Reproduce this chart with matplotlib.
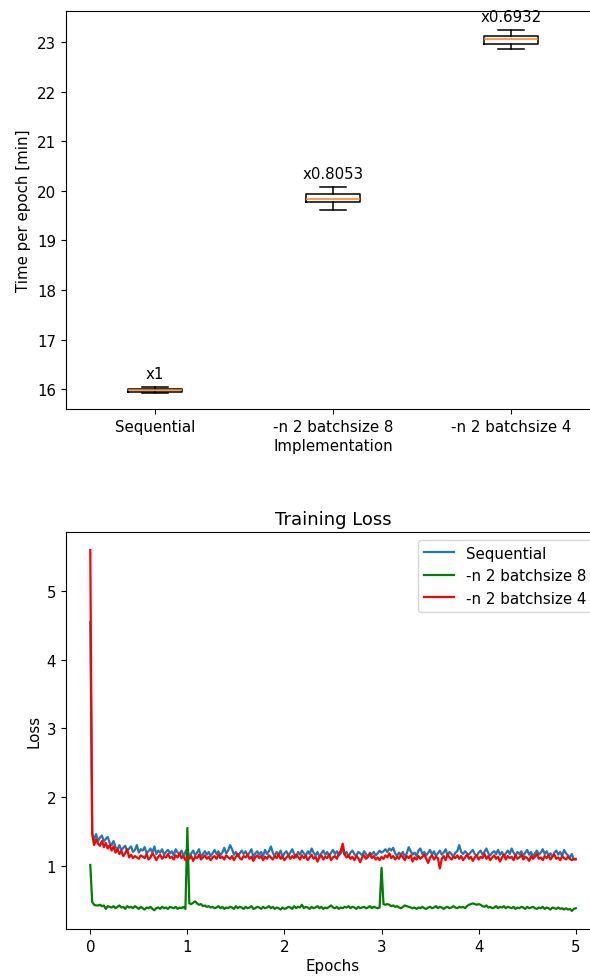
import numpy as np
import matplotlib
matplotlib.use("Agg")
import matplotlib.pyplot as plt

plt.rcParams["font.size"] = 10.8

# ---------------- data ----------------
implementations = ["Sequential", "-n 2 batchsize 8", "-n 2 batchsize 4"]
speedup_labels = ["x1", "x0.8053", "x0.6932"]
box_q1 = [15.95, 19.77, 22.96]
box_med = [15.98, 19.83, 23.07]
box_q3 = [16.00, 19.93, 23.12]
whisker_lo = [15.93, 19.62, 22.87]
whisker_hi = [16.05, 20.08, 23.25]

steps_per_epoch = 50
loss_sequential = [
    4.55, 1.48, 1.38, 1.46, 1.36, 1.41, 1.44, 1.35, 1.39, 1.42, 1.33,
    1.30, 1.36, 1.27, 1.24, 1.30, 1.22, 1.26, 1.29, 1.21, 1.25,
    1.28, 1.20, 1.23, 1.30, 1.19, 1.24, 1.22, 1.27, 1.18, 1.21,
    1.25, 1.19, 1.28, 1.17, 1.22, 1.19, 1.24, 1.16, 1.20, 1.23,
    1.18, 1.21, 1.15, 1.24, 1.19, 1.17, 1.22, 1.14, 1.20, 1.25,
    1.12, 1.18, 1.22, 1.15, 1.19, 1.24, 1.13, 1.17, 1.21, 1.16,
    1.20, 1.14, 1.18, 1.23, 1.17, 1.21, 1.15, 1.19, 1.26, 1.18,
    1.22, 1.30, 1.24, 1.16, 1.20, 1.14, 1.18, 1.22, 1.17, 1.21,
    1.15, 1.19, 1.24, 1.12, 1.18, 1.21, 1.16, 1.20, 1.14, 1.23,
    1.17, 1.21, 1.28, 1.19, 1.14, 1.20, 1.16, 1.22, 1.13, 1.18,
    1.21, 1.15, 1.19, 1.24, 1.17, 1.12, 1.20, 1.16, 1.22, 1.18,
    1.14, 1.21, 1.17, 1.25, 1.19, 1.15, 1.20, 1.13, 1.18, 1.22,
    1.16, 1.20, 1.14, 1.19, 1.23, 1.17, 1.21, 1.15, 1.18, 1.24,
    1.16, 1.20, 1.13, 1.19, 1.22, 1.17, 1.14, 1.20, 1.18, 1.15,
    1.21, 1.17, 1.13, 1.19, 1.16, 1.20, 1.15, 1.18, 1.22, 1.19,
    1.21, 1.24, 1.20, 1.25, 1.22, 1.26, 1.18, 1.14, 1.19, 1.16,
    1.20, 1.13, 1.18, 1.27, 1.21, 1.16, 1.19, 1.14, 1.22, 1.25,
    1.17, 1.20, 1.15, 1.19, 1.23, 1.16, 1.21, 1.14, 1.18, 1.22,
    1.16, 1.19, 1.24, 1.15, 1.20, 1.17, 1.13, 1.19, 1.21, 1.30,
    1.20, 1.17, 1.21, 1.18, 1.16, 1.20, 1.23, 1.17, 1.14, 1.19,
    1.22, 1.16, 1.20, 1.25, 1.18, 1.15, 1.19, 1.21, 1.17, 1.23,
    1.16, 1.20, 1.14, 1.18, 1.22, 1.17, 1.25, 1.19, 1.15, 1.20,
    1.17, 1.21, 1.14, 1.19, 1.23, 1.16, 1.20, 1.13, 1.18, 1.22,
    1.16, 1.19, 1.24, 1.17, 1.21, 1.15, 1.18, 1.13, 1.19, 1.22,
    1.16, 1.20, 1.14, 1.23, 1.18, 1.15, 1.12, 1.17, 1.09, 1.10,
]
loss_bs8 = [
    1.01, 0.47, 0.43, 0.42, 0.42, 0.43, 0.41, 0.42, 0.37, 0.41, 0.40,
    0.39, 0.41, 0.38, 0.40, 0.42, 0.39, 0.40, 0.37, 0.41, 0.39,
    0.40, 0.38, 0.41, 0.39, 0.37, 0.40, 0.38, 0.36, 0.39, 0.38,
    0.40, 0.37, 0.35, 0.38, 0.39, 0.37, 0.40, 0.38, 0.39, 0.37,
    0.40, 0.39, 0.38, 0.40, 0.37, 0.39, 0.38, 0.40, 0.37, 1.55,
    0.45, 0.44, 0.46, 0.48, 0.45, 0.43, 0.44, 0.41, 0.42, 0.40,
    0.41, 0.39, 0.40, 0.38, 0.39, 0.41, 0.38, 0.40, 0.37, 0.39,
    0.38, 0.40, 0.39, 0.37, 0.41, 0.38, 0.40, 0.39, 0.37, 0.40,
    0.38, 0.39, 0.41, 0.37, 0.38, 0.40, 0.39, 0.37, 0.40, 0.38,
    0.39, 0.41, 0.38, 0.40, 0.37, 0.39, 0.38, 0.36, 0.39, 0.37,
    0.38, 0.40, 0.39, 0.37, 0.41, 0.38, 0.40, 0.39, 0.43, 0.38,
    0.40, 0.39, 0.37, 0.40, 0.38, 0.39, 0.41, 0.38, 0.40, 0.37,
    0.39, 0.38, 0.40, 0.42, 0.39, 0.38, 0.40, 0.37, 0.39, 0.38,
    0.40, 0.39, 0.41, 0.38, 0.40, 0.39, 0.37, 0.40, 0.38, 0.39,
    0.40, 0.38, 0.39, 0.41, 0.38, 0.40, 0.39, 0.38, 0.39, 0.97,
    0.44, 0.43, 0.44, 0.43, 0.41, 0.42, 0.40, 0.41, 0.39, 0.38,
    0.40, 0.42, 0.41, 0.40, 0.39, 0.38, 0.39, 0.37, 0.39, 0.38,
    0.40, 0.38, 0.37, 0.39, 0.40, 0.38, 0.39, 0.41, 0.38, 0.40,
    0.39, 0.37, 0.39, 0.40, 0.38, 0.39, 0.41, 0.39, 0.38, 0.40,
    0.39, 0.40, 0.38, 0.41, 0.43, 0.44, 0.45, 0.44, 0.43, 0.44,
    0.43, 0.41, 0.40, 0.42, 0.39, 0.40, 0.38, 0.39, 0.41, 0.38,
    0.40, 0.39, 0.41, 0.38, 0.40, 0.39, 0.38, 0.40, 0.37, 0.39,
    0.38, 0.40, 0.39, 0.37, 0.40, 0.38, 0.39, 0.40, 0.38, 0.37,
    0.39, 0.38, 0.40, 0.37, 0.39, 0.38, 0.36, 0.39, 0.38, 0.37,
    0.39, 0.37, 0.38, 0.36, 0.38, 0.36, 0.37, 0.34, 0.37, 0.38,
]
loss_bs4 = [
    5.60, 1.45, 1.30, 1.38, 1.32, 1.29, 1.36, 1.27, 1.33, 1.25, 1.30,
    1.22, 1.28, 1.19, 1.24, 1.17, 1.21, 1.14, 1.18, 1.24, 1.12,
    1.16, 1.11, 1.14, 1.12, 1.10, 1.15, 1.13, 1.11, 1.17, 1.09,
    1.12, 1.18, 1.14, 1.08, 1.13, 1.16, 1.10, 1.14, 1.12, 1.17,
    1.11, 1.13, 1.09, 1.15, 1.12, 1.18, 1.11, 1.14, 1.08, 1.12,
    1.10, 1.14, 1.07, 1.13, 1.11, 1.16, 1.09, 1.12, 1.15, 1.10,
    1.13, 1.08, 1.12, 1.14, 1.10, 1.16, 1.11, 1.13, 1.09, 1.15,
    1.12, 1.10, 1.14, 1.08, 1.13, 1.17, 1.11, 1.09, 1.14, 1.12,
    1.16, 1.10, 1.13, 1.07, 1.12, 1.15, 1.11, 1.14, 1.08, 1.13,
    1.10, 1.15, 1.12, 1.09, 1.14, 1.11, 1.17, 1.10, 1.13, 1.08,
    1.12, 1.15, 1.10, 1.14, 1.11, 1.16, 1.13, 1.09, 1.15, 1.11,
    1.14, 1.08, 1.12, 1.16, 1.10, 1.13, 1.06, 1.12, 1.15, 1.09,
    1.13, 1.11, 1.16, 1.08, 1.12, 1.14, 1.10, 1.17, 1.22, 1.32,
    1.16, 1.12, 1.15, 1.10, 1.13, 1.08, 1.14, 1.11, 1.05, 1.12,
    1.15, 1.10, 1.13, 1.17, 1.11, 1.14, 1.09, 1.12, 1.08, 1.13,
    1.10, 1.15, 1.12, 1.18, 1.11, 1.14, 1.09, 1.13, 1.10, 1.16,
    1.12, 1.08, 1.14, 1.11, 1.15, 1.06, 1.12, 1.09, 1.14, 1.10,
    1.13, 1.16, 1.10, 1.04, 1.12, 1.15, 1.09, 1.13, 1.11, 0.96,
    1.10, 1.14, 1.08, 1.16, 1.12, 1.09, 1.13, 1.11, 1.15, 1.10,
    1.14, 1.08, 1.12, 1.16, 1.10, 1.13, 1.07, 1.12, 1.15, 1.09,
    1.13, 1.11, 1.17, 1.10, 1.14, 1.08, 1.12, 1.15, 1.10, 1.13,
    1.06, 1.12, 1.16, 1.09, 1.14, 1.11, 1.13, 1.08, 1.15, 1.10,
    1.12, 1.16, 1.09, 1.13, 1.11, 1.07, 1.14, 1.10, 1.13, 1.17,
    1.10, 1.12, 1.08, 1.14, 1.11, 1.15, 1.09, 1.13, 1.16, 1.10,
    1.12, 1.08, 1.14, 1.11, 1.09, 1.13, 1.10, 1.08, 1.10, 1.09,
]
series_names = ["Sequential", "-n 2 batchsize 8", "-n 2 batchsize 4"]
series_colors = ["#1f77b4", "green", "red"]

# ---------------- figure ----------------
W, H = 590, 978
fig = plt.figure(figsize=(W / 100, H / 100), dpi=100)

ax1 = fig.add_axes([66 / W, (H - 410) / H, 534 / W, 398 / H])
stats = []
for i in range(len(implementations)):
    stats.append(dict(med=box_med[i], q1=box_q1[i], q3=box_q3[i],
                      whislo=whisker_lo[i], whishi=whisker_hi[i],
                      fliers=[], label=implementations[i]))
ax1.bxp(stats, positions=[1, 2, 3], showfliers=False,
        boxprops=dict(linewidth=1.1), whiskerprops=dict(linewidth=1.1),
        capprops=dict(linewidth=1.1), medianprops=dict(linewidth=1.1))
for i, lab in enumerate(speedup_labels):
    ax1.text(i + 1, whisker_hi[i] + 0.12, lab, ha="center", va="bottom")
ax1.set_xlim(0.5, 3.5)
ax1.set_ylim(15.6, 23.63)
ax1.set_xlabel("Implementation", labelpad=3)
ax1.set_ylabel("Time per epoch [min]")

ax2 = fig.add_axes([66 / W, 48 / H, 534 / W, 397 / H])
for vals, name, col in zip([loss_sequential, loss_bs8, loss_bs4], series_names, series_colors):
    ep = np.arange(len(vals)) / steps_per_epoch
    ax2.plot(ep, vals, color=col, label=name, linewidth=1.6)
ax2.set_title("Training Loss")
ax2.set_xlabel("Epochs", labelpad=3)
ax2.set_ylabel("Loss")
ax2.legend(loc="upper right")

fig.savefig("out.png", dpi=100)
